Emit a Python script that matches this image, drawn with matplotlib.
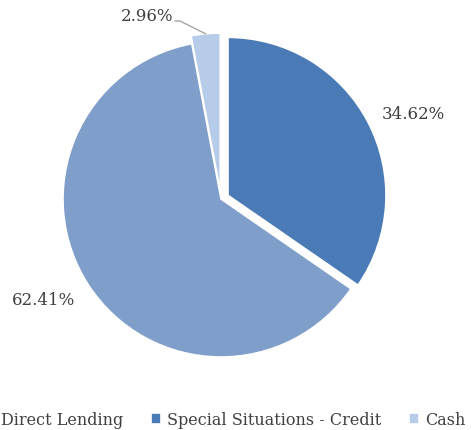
import matplotlib
matplotlib.use('Agg')
import matplotlib.pyplot as plt
import numpy as np

labels = ['Direct Lending', 'Special Situations - Credit', 'Cash']
values = [62.41, 34.62, 2.96]
colors = ['#7f9fca', '#4a7bb7', '#b6cce8']
explode = [0, 0.05, 0.05]

plt.rcParams['font.family'] = ['DejaVu Serif']
txt = '#404040'

fig = plt.figure(figsize=(4.71, 4.31), dpi=100)
ax = fig.add_axes([63 / 471, 73 / 431, 316 / 471, 316 / 431])

start = 90 + values[2] / 100 * 360
wedges, _ = ax.pie(values, colors=colors, explode=explode, startangle=start,
                   counterclock=True,
                   wedgeprops=dict(edgecolor='white', linewidth=1.2))
ax.set_xlim(-1, 1)
ax.set_ylim(-1, 1)

# data labels (placed by hand like the original)
ax.text(-1.123, -0.639, '%.2f%%' % values[0], ha='center', va='center',
        fontsize=12, color=txt)
ax.text(1.215, 0.544, '%.2f%%' % values[1], ha='center', va='center',
        fontsize=12, color=txt)

w = wedges[2]
ang = np.deg2rad((w.theta1 + w.theta2) / 2)
ex, ey = 1.05 * np.cos(ang), 1.05 * np.sin(ang)
ax.plot([-0.29, -0.26, ex], [1.127, 1.127, ey], color='#a6a6a6', lw=1,
        clip_on=False)
ax.text(-0.30, 1.16, '%.2f%%' % values[2], ha='right', va='center',
        fontsize=12, color=txt)

fig.legend(wedges, labels, loc='center', bbox_to_anchor=(0.478, 0.024),
           ncol=3, frameon=False, fontsize=11.5, handlelength=0.6,
           handleheight=0.6, handletextpad=0.4, columnspacing=1.75,
           labelcolor=txt)

fig.savefig('out.png', dpi=100)
